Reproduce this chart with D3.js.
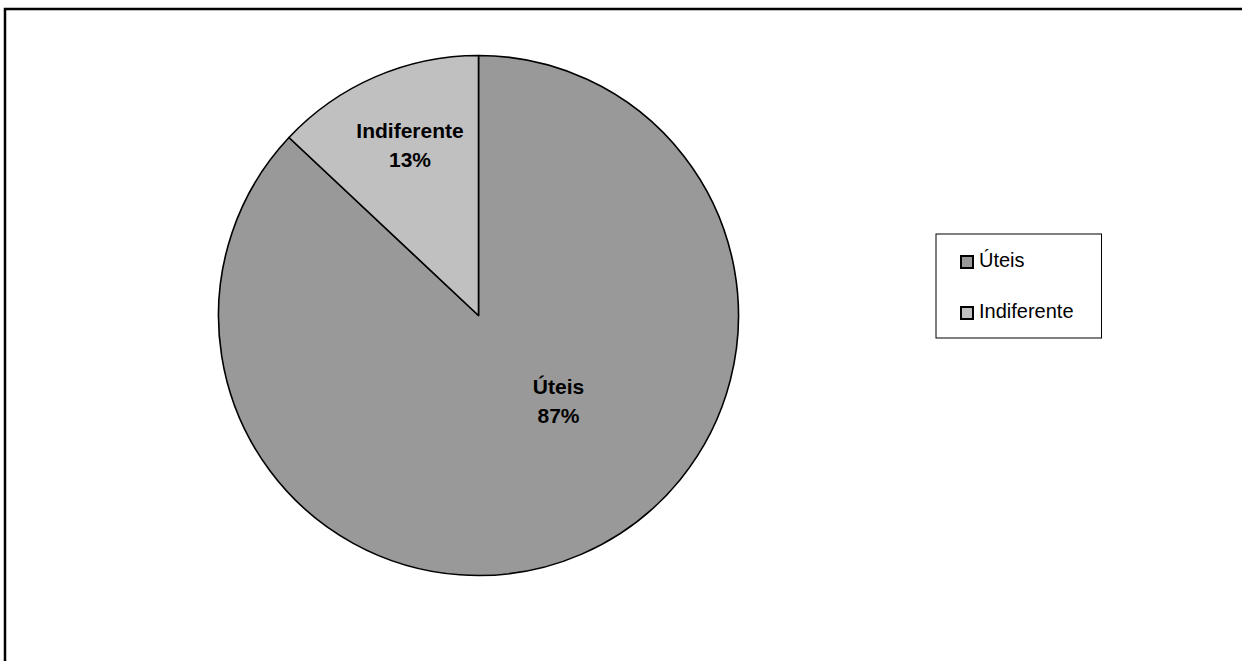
<!DOCTYPE html>
<html><head><meta charset="utf-8">
<script src="https://cdn.jsdelivr.net/npm/d3@7"></script>
<style>body{margin:0;background:#fff;} svg{display:block;font-family:"Liberation Sans",Arial,sans-serif;}</style>
</head><body>
<script>
const categories = ["Úteis", "Indiferente"];
const values = [87, 13];
const colors = ["#999999", "#c0c0c0"];

const W = 1242, H = 661;
const svg = d3.select("body").append("svg").attr("width", W).attr("height", H);

// frame (top and left edges visible)
svg.append("path").attr("d", `M5,${H+5} L5,9 L${W+5},9`).attr("fill","none").attr("stroke","#000").attr("stroke-width",2.5);

const cx = 478.5, cy = 315.5, r = 260;
const pie = d3.pie().sort(null).value(d => d.v);
const data = categories.map((c,i)=>({c, v: values[i], col: colors[i]}));
const arcs = pie(data);
const arc = d3.arc().innerRadius(0).outerRadius(r);
const g = svg.append("g").attr("transform", `translate(${cx},${cy})`);
g.selectAll("path").data(arcs).join("path")
  .attr("d", arc).attr("fill", d=>d.data.col)
  .attr("stroke","#000").attr("stroke-width",1.6).attr("stroke-linejoin","round");

// label anchor (x centre, baseline of first line)
const labelPos = [[80, 78.5], [-68.5, -177.5]];
const total = d3.sum(values);
arcs.forEach((a,i)=>{
  const t = g.append("text").attr("text-anchor","middle").attr("font-weight","bold")
    .attr("font-size",21).attr("fill","#000");
  t.append("tspan").attr("x",labelPos[i][0]).attr("y",labelPos[i][1]).text(a.data.c);
  t.append("tspan").attr("x",labelPos[i][0]).attr("y",labelPos[i][1]+29).text(Math.round(a.data.v/total*100)+"%");
});

// legend
const lg = svg.append("g");
lg.append("rect").attr("x",936).attr("y",234).attr("width",165.5).attr("height",104)
  .attr("fill","#fff").attr("stroke","#000").attr("stroke-width",1);
data.forEach((d,i)=>{
  const y = 256 + i*51;
  lg.append("rect").attr("x",961).attr("y",y).attr("width",12).attr("height",12)
    .attr("fill",d.col).attr("stroke","#000").attr("stroke-width",2);
  lg.append("text").attr("x",979).attr("y",y+10.5).attr("font-size",20).attr("fill","#000").text(d.c);
});
</script>
</body></html>
